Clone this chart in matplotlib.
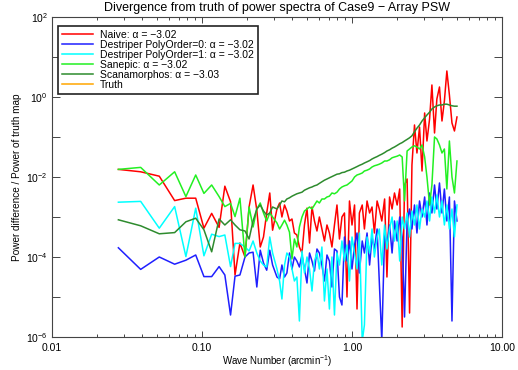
import matplotlib
matplotlib.use('Agg')
import matplotlib.pyplot as plt
import numpy as np
from matplotlib.ticker import FixedLocator, FuncFormatter, NullFormatter, NullLocator, LogLocator

plt.rcParams['font.family'] = ['Liberation Sans', 'DejaVu Sans']
plt.rcParams['mathtext.fontset'] = 'custom'
plt.rcParams['mathtext.rm'] = 'Liberation Sans'
plt.rcParams['mathtext.it'] = 'Liberation Sans:italic'

# wave number (arcmin^-1): real grid at low k, thinned out at high k
k_low = [0.0277, 0.0390, 0.0519, 0.0657, 0.0781, 0.0908, 0.103, 0.116, 0.130, 0.142,
         0.155, 0.166, 0.179, 0.1935, 0.206, 0.219, 0.232, 0.2445, 0.257, 0.270,
         0.283, 0.2955]
k_high = [0.316, 0.329, 0.341, 0.355, 0.368, 0.383, 0.398, 0.413, 0.429, 0.446,
          0.464, 0.482, 0.501, 0.521, 0.541, 0.562, 0.584, 0.606, 0.630, 0.655,
          0.681, 0.707, 0.735, 0.764, 0.794, 0.825, 0.857, 0.891, 0.926, 0.962,
          1.00, 1.04, 1.08, 1.12, 1.17, 1.21, 1.26, 1.31, 1.36, 1.41,
          1.47, 1.52, 1.58, 1.65, 1.71, 1.78, 1.85, 1.92, 2.00, 2.08,
          2.16, 2.24, 2.33, 2.42, 2.51, 2.61, 2.71, 2.82, 2.93, 3.05,
          3.16, 3.29, 3.41, 3.55, 3.68, 3.83, 3.98, 4.13, 4.29, 4.46,
          4.64, 4.82, 5.01]
wave_number = np.array(k_low + k_high)

# log10(power difference / power of truth map)
naive = [-1.81, -1.87, -1.98, -2.59, -2.53, -2.53, -3.28, -2.91, -3.26, -2.23,
         -2.62, -4.45, -3.65, -4.0, -2.75, -2.2, -2.83, -3.75, -3.5, -2.9,
         -2.4, -3.33,
         -2.8, -2.65, -3.0, -2.7, -2.85, -3.1, -3.05, -3.4, -3.45, -3.75,
         -3.9, -3.2, -2.78, -3.65, -2.75, -3.1, -3.35, -3.0, -3.3, -3.6,
         -3.2, -3.4, -3.75, -3.2, -2.7, -3.55, -3.0, -2.9, -5.0, -2.6,
         -3.2, -2.7, -5.3, -2.9, -2.7, -3.3, -2.6, -2.9, -2.75, -3.4,
         -2.6, -2.8, -3.1, -2.55, -4.5, -2.5, -2.8, -2.4, -2.7, -2.3,
         -5.75, -2.2, -2.05, -5.4, -1.7, -0.7, -1.4, -0.75, -1.85, -0.4,
         -1.1, -0.55, 0.3, -0.9, -0.05, 0.25, -0.6, -0.1, 0.65, 0.05,
         -0.65, -0.85, -0.5]

destriper0 = [-3.77, -4.31, -4.0, -4.18, -4.08, -3.95, -4.49, -4.49, -4.24, -4.45,
              -5.45, -4.48, -4.45, -4.0, -3.9, -3.88, -4.75, -3.83, -4.15, -4.33,
              -3.83, -4.2,
              -4.5, -4.55, -4.2, -4.5, -4.4, -3.9, -4.3, -4.0, -4.1, -4.25,
              -3.95, -4.3, -4.65, -3.9, -4.1, -4.35, -3.8, -3.9, -4.2, -4.6,
              -3.95, -4.1, -4.75, -3.8, -3.85, -5.0, -5.2, -3.5, -4.1, -3.6,
              -4.3, -3.7, -3.4, -4.4, -3.6, -3.9, -3.4, -4.2, -3.5, -3.8,
              -3.3, -4.6, -6.1, -3.4, -3.7, -3.2, -3.9, -3.1, -3.6, -3.0,
              -3.5, -5.5, -3.1, -2.8, -3.3, -2.7, -3.4, -2.6, -3.0, -2.5,
              -3.2, -2.4, -2.9, -2.2, -2.8, -2.15, -2.9, -2.3, -3.1, -2.5,
              -5.6, -2.6, -3.1]

destriper1 = [-2.63, -2.61, -3.28, -2.74, -3.99, -2.78, -3.97, -3.43, -3.49, -3.45,
              -4.24, -3.66, -3.66, -3.75, -3.85, -3.6, -3.9, -4.1, -4.2, -4.25,
              -3.5, -3.9,
              -4.3, -4.6, -5.05, -4.2, -3.9, -4.0, -4.3, -4.6, -4.5, -5.6,
              -3.85, -4.4, -4.0, -4.3, -4.85, -4.1, -3.9, -4.3, -3.75, -5.1,
              -4.3, -5.3, -4.0, -5.45, -3.9, -4.2, -3.6, -4.1, -3.7, -4.6,
              -3.5, -3.9, -4.3, -3.4, -6.1, -5.7, -3.5, -3.9, -3.3, -4.0,
              -3.5, -3.3, -4.2, -3.2, -3.8, -3.3, -3.0, -3.6, -3.1, -4.1,
              -3.0, -3.3, -2.9, -3.5, -2.85, -3.2, -2.7, -3.3, -2.8, -3.0,
              -2.6, -3.1, -2.5, -2.9, -2.45, -3.0, -2.6, -3.2, -2.7, -3.3,
              -2.8, -3.5, -2.7]

sanepic = [-1.81, -1.76, -2.2, -1.87, -2.49, -1.95, -2.41, -2.2, -2.49, -2.74,
           -2.66, -2.99, -2.53, -4.0, -2.75, -3.25, -2.8, -2.65, -2.9, -3.1,
           -2.9, -3.0,
           -3.15, -3.3, -3.2, -3.08, -3.2, -3.38, -4.05, -3.55, -3.75, -3.25,
           -3.0, -2.85, -2.8, -2.75, -2.8, -2.7, -2.6, -2.65, -2.55, -2.55,
           -2.5, -2.48, -2.4, -2.42, -2.38, -2.3, -2.25, -2.22, -2.2, -2.15,
           -2.1, -2.0, -1.95, -1.93, -1.9, -1.85, -1.83, -1.8, -1.75, -1.72,
           -1.7, -1.68, -1.65, -1.6, -1.6, -1.57, -1.52, -1.5, -1.48, -1.45,
           -1.5, -2.6, -1.35, -1.3, -1.25, -1.22, -1.25, -1.3, -1.2, -1.5,
           -2.0, -2.7, -2.2, -1.0, -1.05, -1.2, -1.4, -1.3, -2.3, -1.1,
           -2.0, -2.4, -1.6]

scanamorphos = [-3.07, -3.22, -3.42, -3.39, -3.12, -3.03, -3.32, -3.87, -3.05, -3.2,
                -3.07, -3.2, -3.32, -3.35, -3.55, -3.1, -2.8, -2.7, -2.85, -2.95,
                -2.9, -2.75,
                -2.8, -2.7, -2.6, -2.62, -2.55, -2.52, -2.48, -2.45, -2.42, -2.4,
                -2.38, -2.33, -2.3, -2.27, -2.25, -2.22, -2.2, -2.16, -2.12, -2.08,
                -2.05, -2.02, -1.99, -1.96, -1.93, -1.92, -1.89, -1.88, -1.85, -1.83,
                -1.8, -1.77, -1.74, -1.71, -1.68, -1.65, -1.62, -1.59, -1.55, -1.52,
                -1.49, -1.46, -1.43, -1.39, -1.35, -1.32, -1.28, -1.25, -1.21, -1.17,
                -1.14, -1.1, -1.06, -1.02, -0.97, -0.87, -0.78, -0.7, -0.6, -0.52,
                -0.45, -0.38, -0.3, -0.25, -0.22, -0.2, -0.2, -0.18, -0.18, -0.2,
                -0.22, -0.23, -0.23]

series = [
    (naive, 'Naive: α = −3.02', '#ff0000'),
    (destriper0, 'Destriper PolyOrder=0: α = −3.02', '#1f1fff'),
    (destriper1, 'Destriper PolyOrder=1: α = −3.02', '#00ffff'),
    (sanepic, 'Sanepic: α = −3.02', '#22f022'),
    (scanamorphos, 'Scanamorphos: α = −3.03', '#2e8b2e'),
]

fig = plt.figure(figsize=(5.18, 3.70), dpi=100)
ax = fig.add_axes([0.1004, 0.0892, 0.8687, 0.8649])

for vals, lab, col in series:
    ax.plot(wave_number, 10 ** np.array(vals), color=col, lw=1.1, label=lab)
ax.plot([], [], color='#ffa500', lw=1.1, label='Truth')

ax.set_xscale('log')
ax.set_yscale('log')
ax.set_xlim(0.01, 10)
ax.set_ylim(1e-6, 1e2)

ax.xaxis.set_major_locator(FixedLocator([0.01, 0.1, 1, 10]))
ax.xaxis.set_major_formatter(FuncFormatter(lambda v, p: f'{v:.2f}'))
ax.xaxis.set_minor_locator(LogLocator(base=10, subs=range(2, 10)))
ax.xaxis.set_minor_formatter(NullFormatter())

def ylab(v, p):
    e = int(round(np.log10(v)))
    return f'$10^{{{e}}}$' if e % 2 == 0 else ''

ax.yaxis.set_major_locator(FixedLocator(10.0 ** np.arange(-6, 3)))
ax.yaxis.set_major_formatter(FuncFormatter(ylab))
ax.yaxis.set_minor_locator(NullLocator())

ax.tick_params(which='both', direction='in', top=True, right=True,
               colors='#444444', labelcolor='black', labelsize=7.5, width=0.7)
ax.tick_params(axis='x', which='major', length=4.5, pad=4)
ax.tick_params(axis='x', which='minor', length=2.2)
ax.tick_params(axis='y', which='major', length=6, pad=3)
for s in ax.spines.values():
    s.set_color('#444444')
    s.set_linewidth(0.8)

ax.set_title('Divergence from truth of power spectra of Case9 − Array PSW', fontsize=9, pad=4)
ax.set_xlabel('Wave Number (arcmin$^{-1}$)', fontsize=7)
ax.set_ylabel('Power difference / Power of truth map', fontsize=7.2)
ax.xaxis.set_label_coords(0.5, -0.05)
ax.yaxis.set_label_coords(-0.067, 0.5)

leg = ax.legend(loc='upper left', bbox_to_anchor=(0.0133, 0.972), fontsize=7.5,
                frameon=True, fancybox=False, edgecolor='#222222', framealpha=1,
                handlelength=3.0, handletextpad=0.6, borderpad=0.4,
                labelspacing=0.0, borderaxespad=0)
leg.get_frame().set_linewidth(1.2)

fig.savefig('out.png', dpi=100)
